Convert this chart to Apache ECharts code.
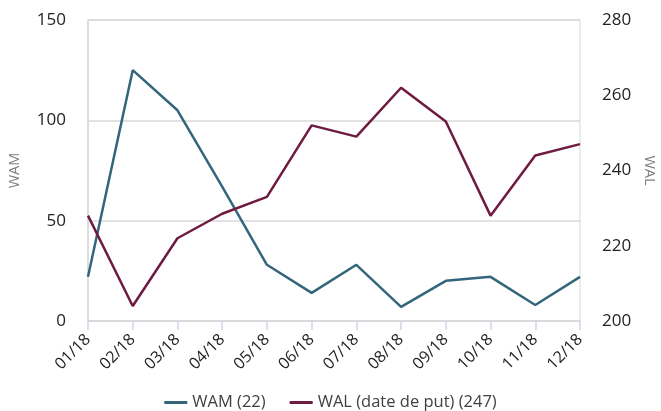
<!DOCTYPE html>
<html>
<head>
<meta charset="utf-8">
<script src="https://cdn.jsdelivr.net/npm/echarts@6/dist/echarts.min.js"></script>
<style>
    html, body { margin: 0; padding: 0; background: #fff; }
    #main { width: 661px; height: 411px; }
</style>
</head>
<body>
<div id="main"></div>
<script>
// mois
var months = ['01/18', '02/18', '03/18', '04/18', '05/18', '06/18', '07/18', '08/18', '09/18', '10/18', '11/18', '12/18'];
// WAM (axe gauche)
var wamData = [22, 125, 105, 67, 28, 14, 28, 7, 20, 22, 8, 22];
// WAL date de put (axe droit)
var walData = [228, 204, 222, 228.5, 233, 252, 249, 262, 253, 228, 244, 247];
var wamTicks = [0, 50, 100, 150];
var walTicks = [200, 220, 240, 260, 280];

var font = '"Open Sans", "Noto Sans", sans-serif';

var chart = echarts.init(document.getElementById('main'));
chart.setOption({
    animation: false,
    textStyle: { fontFamily: font },
    grid: {
        left: 88,
        right: 81,
        top: 20,
        bottom: 90,
        outerBoundsMode: 'none',
        containLabel: false,
        show: true,
        borderColor: '#d9d9d9',
        borderWidth: 1
    },
    legend: {
        top: 389,
        left: 'center',
        icon: 'rect',
        itemWidth: 23,
        itemHeight: 3,
        itemGap: 24,
        textStyle: { fontFamily: font, fontSize: 16.5, color: '#404040' },
        data: ['WAM (22)', 'WAL (date de put) (247)']
    },
    xAxis: {
        type: 'category',
        boundaryGap: false,
        data: months,
        axisLine: { lineStyle: { color: '#d9d9d9', width: 1.5 } },
        axisTick: { show: true, length: 9, alignWithLabel: true, lineStyle: { color: '#cdd8ea', width: 1.5 } },
        axisLabel: { rotate: 45, fontSize: 16, color: '#222', margin: 16, fontFamily: font },
        splitLine: { show: false }
    },
    yAxis: [{
        type: 'value',
        min: wamTicks[0],
        max: wamTicks[wamTicks.length - 1],
        interval: 50,
        name: 'WAM',
        nameLocation: 'middle',
        nameRotate: 90,
        nameGap: 66,
        nameTextStyle: { color: '#7f7f7f', fontSize: 14.5, fontFamily: font },
        axisLine: { show: true, lineStyle: { color: '#d9d9d9', width: 1.5 } },
        axisTick: { show: false },
        axisLabel: { fontSize: 17, color: '#222', margin: 22, fontFamily: font },
        splitLine: { lineStyle: { color: '#d9d9d9', width: 1.5 } }
    }, {
        type: 'value',
        min: walTicks[0],
        max: walTicks[walTicks.length - 1],
        interval: 20,
        name: 'WAL',
        nameLocation: 'middle',
        nameRotate: -90,
        nameGap: 62,
        nameTextStyle: { color: '#7f7f7f', fontSize: 14.5, fontFamily: font },
        axisLine: { show: false },
        axisTick: { show: false },
        axisLabel: { fontSize: 17, color: '#222', margin: 22, fontFamily: font },
        splitLine: { show: false }
    }],
    series: [{
        name: 'WAM (22)',
        type: 'line',
        yAxisIndex: 0,
        data: wamData,
        symbol: 'none',
        color: '#33657b',
        lineStyle: { width: 2.5, color: '#33657b' }
    }, {
        name: 'WAL (date de put) (247)',
        type: 'line',
        yAxisIndex: 1,
        data: walData,
        symbol: 'none',
        color: '#6f1a40',
        lineStyle: { width: 2.5, color: '#6f1a40' }
    }]
});
</script>
</body>
</html>
